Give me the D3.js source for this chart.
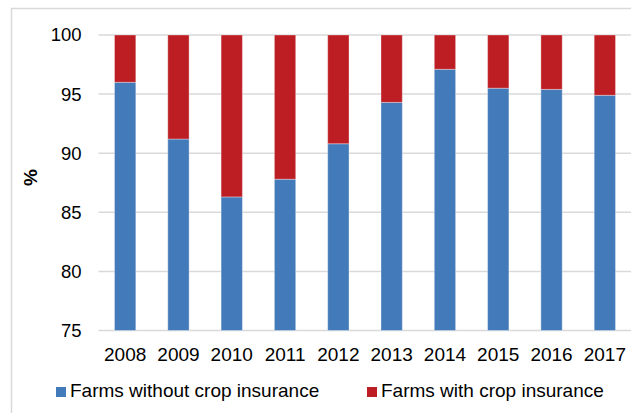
<!DOCTYPE html>
<html><head><meta charset="utf-8">
<script src="https://cdn.jsdelivr.net/npm/d3@7"></script>
<style>body{margin:0;background:#fff}svg{display:block}text{font-family:"Liberation Sans",Arial,sans-serif}</style>
</head><body>
<script>
const years = ["2008","2009","2010","2011","2012","2013","2014","2015","2016","2017"];
const without = [96.0, 91.2, 86.3, 87.8, 90.8, 94.3, 97.1, 95.5, 95.4, 94.9];
const withIns = without.map(v => +(100 - v).toFixed(1));
const yTicks = [75, 80, 85, 90, 95, 100];
const seriesNames = ["Farms without crop insurance", "Farms with crop insurance"];
const colors = ["#437ab9", "#bd1e24"];

const W = 631, H = 413;
const svg = d3.select("body").append("svg").attr("width", W).attr("height", H);
svg.append("rect").attr("x", 11.5).attr("y", 8.5).attr("width", 700).attr("height", 500)
  .attr("fill", "none").attr("stroke", "#d9d9d9").attr("stroke-width", 1.5);

const x = d3.scaleBand().domain(years).range([98.5, 631.5]).paddingInner(0.6).paddingOuter(0.3);
const y = d3.scaleLinear().domain([75, 100]).range([330.5, 35]);

// gridlines
svg.append("g").selectAll("line").data(yTicks).join("line")
  .attr("x1", 98.5).attr("x2", 631.5)
  .attr("y1", d => y(d)).attr("y2", d => y(d))
  .attr("stroke", "#d9d9d9").attr("stroke-width", 1.5);

const data = years.map((yr, i) => ({year: yr, without: without[i], with: withIns[i]}));
const stack = d3.stack().keys(["without", "with"]);
const layers = stack(data);

svg.append("g").selectAll("g").data(layers).join("g")
  .attr("fill", (d, i) => colors[i])
  .selectAll("rect").data(d => d).join("rect")
  .attr("x", d => x(d.data.year))
  .attr("width", x.bandwidth())
  .attr("y", d => y(Math.min(100, d[1])))
  .attr("height", d => y(Math.max(75, d[0])) - y(Math.min(100, d[1])))
  .attr("stroke", "#ffffff").attr("stroke-opacity", 0.35).attr("stroke-width", 1);

// y axis labels
const yAxis = d3.axisLeft(y).tickValues(yTicks).tickSize(0).tickPadding(0);
const gy = svg.append("g").attr("transform", "translate(81.5,0)").call(yAxis);
gy.select(".domain").remove();
gy.selectAll("text").attr("font-size", 18.5).attr("fill", "#000").attr("font-family", "Liberation Sans, Arial, sans-serif");

// x axis labels
const xAxis = d3.axisBottom(x).tickSize(0).tickPadding(0);
const gx = svg.append("g").attr("transform", "translate(0,347.5)").call(xAxis);
gx.select(".domain").remove();
gx.selectAll("text").attr("font-size", 19).attr("fill", "#000").attr("font-family", "Liberation Sans, Arial, sans-serif");

// y title
svg.append("text").attr("transform", "translate(36.5,177.5) rotate(-90)")
  .attr("text-anchor", "middle").attr("font-size", 19).attr("font-weight", "bold").text("%");

// legend
const legX = [56, 367];
const lg = svg.append("g").selectAll("g").data(seriesNames).join("g")
  .attr("transform", (d, i) => `translate(${legX[i]},387)`);
lg.append("rect").attr("width", 10).attr("height", 10).attr("fill", (d, i) => colors[i]);
lg.append("text").attr("x", 14).attr("y", 9.7).attr("font-size", 19).text(d => d);
</script>
</body></html>
